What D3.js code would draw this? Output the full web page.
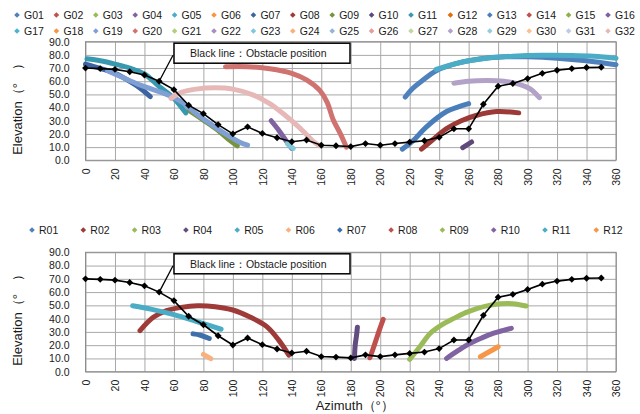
<!DOCTYPE html>
<html>
<head>
<meta charset="utf-8">
<title>Elevation vs Azimuth</title>
<script src="https://cdn.jsdelivr.net/npm/d3@7"></script>
<style>
  body { margin: 0; background: #fff; font-family: "Liberation Sans", Arial, sans-serif; }
  svg text { fill: #1a1a1a; }
</style>
</head>
<body>
<div id="chart"></div>
<script>
// ---- data ----
const xTicks = d3.range(0, 361, 20);
const yTicks = d3.range(0, 91, 10);

// black line: obstacle elevation every 10 degrees of azimuth
const obstacleAz = d3.range(0, 351, 10);
const obstacleEl = [70, 69.6, 69, 67.2, 64.7, 60, 53.6, 41.8, 35.4, 27.1,
                    20.1, 25.4, 20.4, 17.1, 14.1, 15.4, 11.4, 11, 10.4, 12.7,
                    11.4, 12.7, 13.8, 14.8, 17.4, 23.9, 23.9, 42.5, 56.2, 58.3,
                    62, 66, 68.3, 69.6, 70.4, 70.6];

// GPS-type satellites (top chart), [azimuth, elevation]
const gNames = d3.range(1, 33).map(i => "G" + String(i).padStart(2, "0"));
const g01 = [[217,48],[222,54.5],[228,60],[238,68],[250,73],[265,76.5],[285,78.5],[300,78.5],[320,77.5],[340,75.5],[360,72.5]];
const g04 = [[126,30],[131,23],[136,15],[140,9]];
const g05 = [[238,69],[250,73],[260,75.5],[272,77.5],[290,79],[310,79.7],[330,79.6],[345,79],[360,77.5]];
const g07 = [[0,73],[10,69.8],[20,66],[32,58.5],[38,54],[44,48.3]];
const g08 = [[228,8.5],[235,15],[245,24],[255,30],[265,34],[279,37],[294,36]];
const g09 = [[70,38],[80,30.5],[89,23.5],[97,16],[103,11]];
const g10 = [[256,9.6],[262,13.9]];
const g11 = [[1,77],[10,75.5],[20,73],[30,70],[40,65.5],[50,56],[60,47],[68,36]];
const g13 = [[215,8.5],[222,14.5],[231,25],[245,37],[253,40.5],[260,43]];
const g19 = [[15,68],[25,63],[35,58],[45,54],[55,50],[65,44.5],[75,35.5],[85,27.5],[95,20],[105,13.5],[110,11.5]];
const g20 = [[95,71],[110,71],[125,69.5],[140,66],[150,61],[159,53],[164,44],[168,31],[173,20],[177,10]];
const g23 = [[137,12.5],[141,9]];
const g28 = [[250,58.5],[260,60],[272,60.5],[284,60],[295,57.5],[302,54],[308,47.5]];
const g32 = [[58,47],[65,51.5],[75,54],[88,55],[100,54],[114,49.5],[125,43],[134,35.5],[145,25],[155,14],[159,11]];
const gSeries = {G01: g01, G04: g04, G05: g05, G07: g07, G08: g08, G09: g09, G10: g10,
                 G11: g11, G13: g13, G19: g19, G20: g20, G23: g23, G28: g28, G32: g32};

// other constellation (bottom chart)
const rNames = d3.range(1, 13).map(i => "R" + String(i).padStart(2, "0"));
const r02 = [[37,31],[46,41],[55,46],[65,48.5],[76,49.7],[88,49],[100,46.5],[112,41],[123,34],[131,24],[138,12.5]];
const r04 = [[182.5,10],[183,20],[184,28],[184.5,33.5]];
const r06 = [[80,13],[85,9.8]];
const r07 = [[73,28.5],[78,27.5],[84,25]];
const r08 = [[193,10.5],[196,20],[199,30],[202,39.5]];
const r09 = [[220,9.3],[227,19],[234,29],[242,35.5],[250,40.2],[258,44.5],[266,47.8],[274,50],[282,51.3],[290,51.3],[299,49.5]];
const r10 = [[245,10],[253,16],[261,21.4],[269,25.5],[277,29],[283,31],[289,32.7]];
const r11 = [[32,49.7],[45,47],[60,43],[75,38],[85,34.5],[92,32]];
const r12 = [[268,11.3],[274,15],[280,18.8]];
const rSeries = {R02: r02, R04: r04, R06: r06, R07: r07, R08: r08, R09: r09, R10: r10, R11: r11, R12: r12};

// ---- colours ----
const gColors = ["#4F81BD","#C0504D","#9BBB59","#8064A2","#4BACC6","#F79646",
                 "#3B64A0","#9C3A38","#77933C","#5F497A","#3898B0","#E46C0A",
                 "#4A7EBB","#C0504D","#8DB04B","#7D5FA5","#4BB3CF","#F79646",
                 "#7F9FD5","#D07370","#B3CF7E","#A590C1","#7FC8DA","#FAB07A",
                 "#95B3D7","#E49B99","#C3D69B","#B3A2C7","#93CDDD","#FAC090",
                 "#B9CDE5","#E6B9B8"];
const rColors = ["#4F81BD","#9E3B39","#9BBB59","#634C80","#4BACC6","#F9B07C",
                 "#3F6FAB","#C0504D","#9BBB59","#8064A2","#4BACC6","#F79646"];

const width = 640, height = 414;
const svg = d3.select("#chart").append("svg")
    .attr("width", width).attr("height", height)
    .attr("viewBox", [0, 0, width, height]);

const x = d3.scaleLinear().domain([0, 360]).range([85.5, 616]);
const line = d3.line().x(d => x(d[0])).curve(d3.curveCatmullRom);

function panel(y, names, colors, series, showXTitle) {
  const g = svg.append("g");
  const [y0, y1] = y.range();
  const w = x.range()[1] - x.range()[0];
  const h = y0 - y1;

  // gridlines + tick labels via axes
  const ya = g.append("g").attr("transform", `translate(${x.range()[0]},0)`)
      .call(d3.axisLeft(y).tickValues(yTicks).tickFormat(d3.format(".1f"))
        .tickSize(-w).tickPadding(16));
  const xa = g.append("g").attr("transform", `translate(0,${y0})`)
      .call(d3.axisBottom(x).tickValues(xTicks).tickSize(-h));
  [ya, xa].forEach(a => {
    a.select(".domain").remove();
    a.selectAll(".tick line").attr("stroke", "#a8a8a8");
    a.selectAll("text").attr("font-size", 10.5).attr("font-family", "Liberation Sans, Arial, sans-serif").attr("fill", "#1a1a1a");
  });
  xa.selectAll("text")
      .attr("transform", "rotate(-90)")
      .attr("text-anchor", "end")
      .attr("x", -8).attr("y", 0).attr("dy", "0.35em");

  g.append("rect").attr("x", x.range()[0]).attr("y", y1)
      .attr("width", w).attr("height", h)
      .attr("fill", "none").attr("stroke", "#8c8c8c");

  // satellite tracks
  names.forEach((n, i) => {
    if (!series[n]) return;
    g.append("path").datum(series[n])
        .attr("d", line.y(d => y(d[1])))
        .attr("fill", "none").attr("stroke", colors[i])
        .attr("stroke-width", 5).attr("stroke-linecap", "round").attr("stroke-linejoin", "round");
  });

  // obstacle line
  const obs = obstacleAz.map((a, i) => [a, obstacleEl[i]]);
  g.append("path").datum(obs)
      .attr("d", d3.line().x(d => x(d[0])).y(d => y(d[1])))
      .attr("fill", "none").attr("stroke", "#000").attr("stroke-width", 1.6);
  g.selectAll(".obs").data(obs).join("path")
      .attr("transform", d => `translate(${x(d[0])},${y(d[1])})`)
      .attr("d", d3.symbol(d3.symbolDiamond2, 30))
      .attr("fill", "#000");

  // callout
  const bx = 174, by = y1 + 1.5, bw = 176, bh = 20;
  g.append("line").attr("x1", bx - 1).attr("y1", by + 12)
      .attr("x2", x(50)).attr("y2", y(60))
      .attr("stroke", "#000").attr("stroke-width", 1.3);
  g.append("rect").attr("x", bx).attr("y", by).attr("width", bw).attr("height", bh)
      .attr("fill", "#fff").attr("stroke", "#000").attr("stroke-width", 1.5);
  g.append("text").attr("x", bx + 16).attr("y", by + 14)
      .attr("font-size", 10.5).text("Black line：Obstacle position");

  // y title
  g.append("text")
      .attr("transform", `translate(22,${(y0 + y1) / 2 + 5}) rotate(-90)`)
      .attr("text-anchor", "middle").attr("font-size", 13)
      .text("Elevation（°　）");

  if (showXTitle) {
    g.append("text").attr("x", (x.range()[0] + x.range()[1]) / 2 + 4).attr("y", 410)
        .attr("text-anchor", "middle").attr("font-size", 13)
        .text("Azimuth（°）");
  }
}

function legend(names, colors, x0, step, perRow, rowY) {
  const g = svg.append("g");
  names.forEach((n, i) => {
    const cx = x0 + (i % perRow) * step;
    const cy = rowY[Math.floor(i / perRow)];
    g.append("path").attr("transform", `translate(${cx},${cy})`)
        .attr("d", d3.symbol(d3.symbolDiamond2, 20)).attr("fill", colors[i]);
    g.append("text").attr("x", cx + 7).attr("y", cy + 4)
        .attr("font-size", 10.5).text(n);
  });
}

legend(gNames, gColors, 17, 39.4, 16, [15, 31]);
panel(d3.scaleLinear().domain([0, 90]).range([160.3, 41.7]), gNames, gColors, gSeries, false);

legend(rNames, rColors, 32, 51.3, 12, [230]);
panel(d3.scaleLinear().domain([0, 90]).range([371.7, 252.3]), rNames, rColors, rSeries, true);
</script>
</body>
</html>
